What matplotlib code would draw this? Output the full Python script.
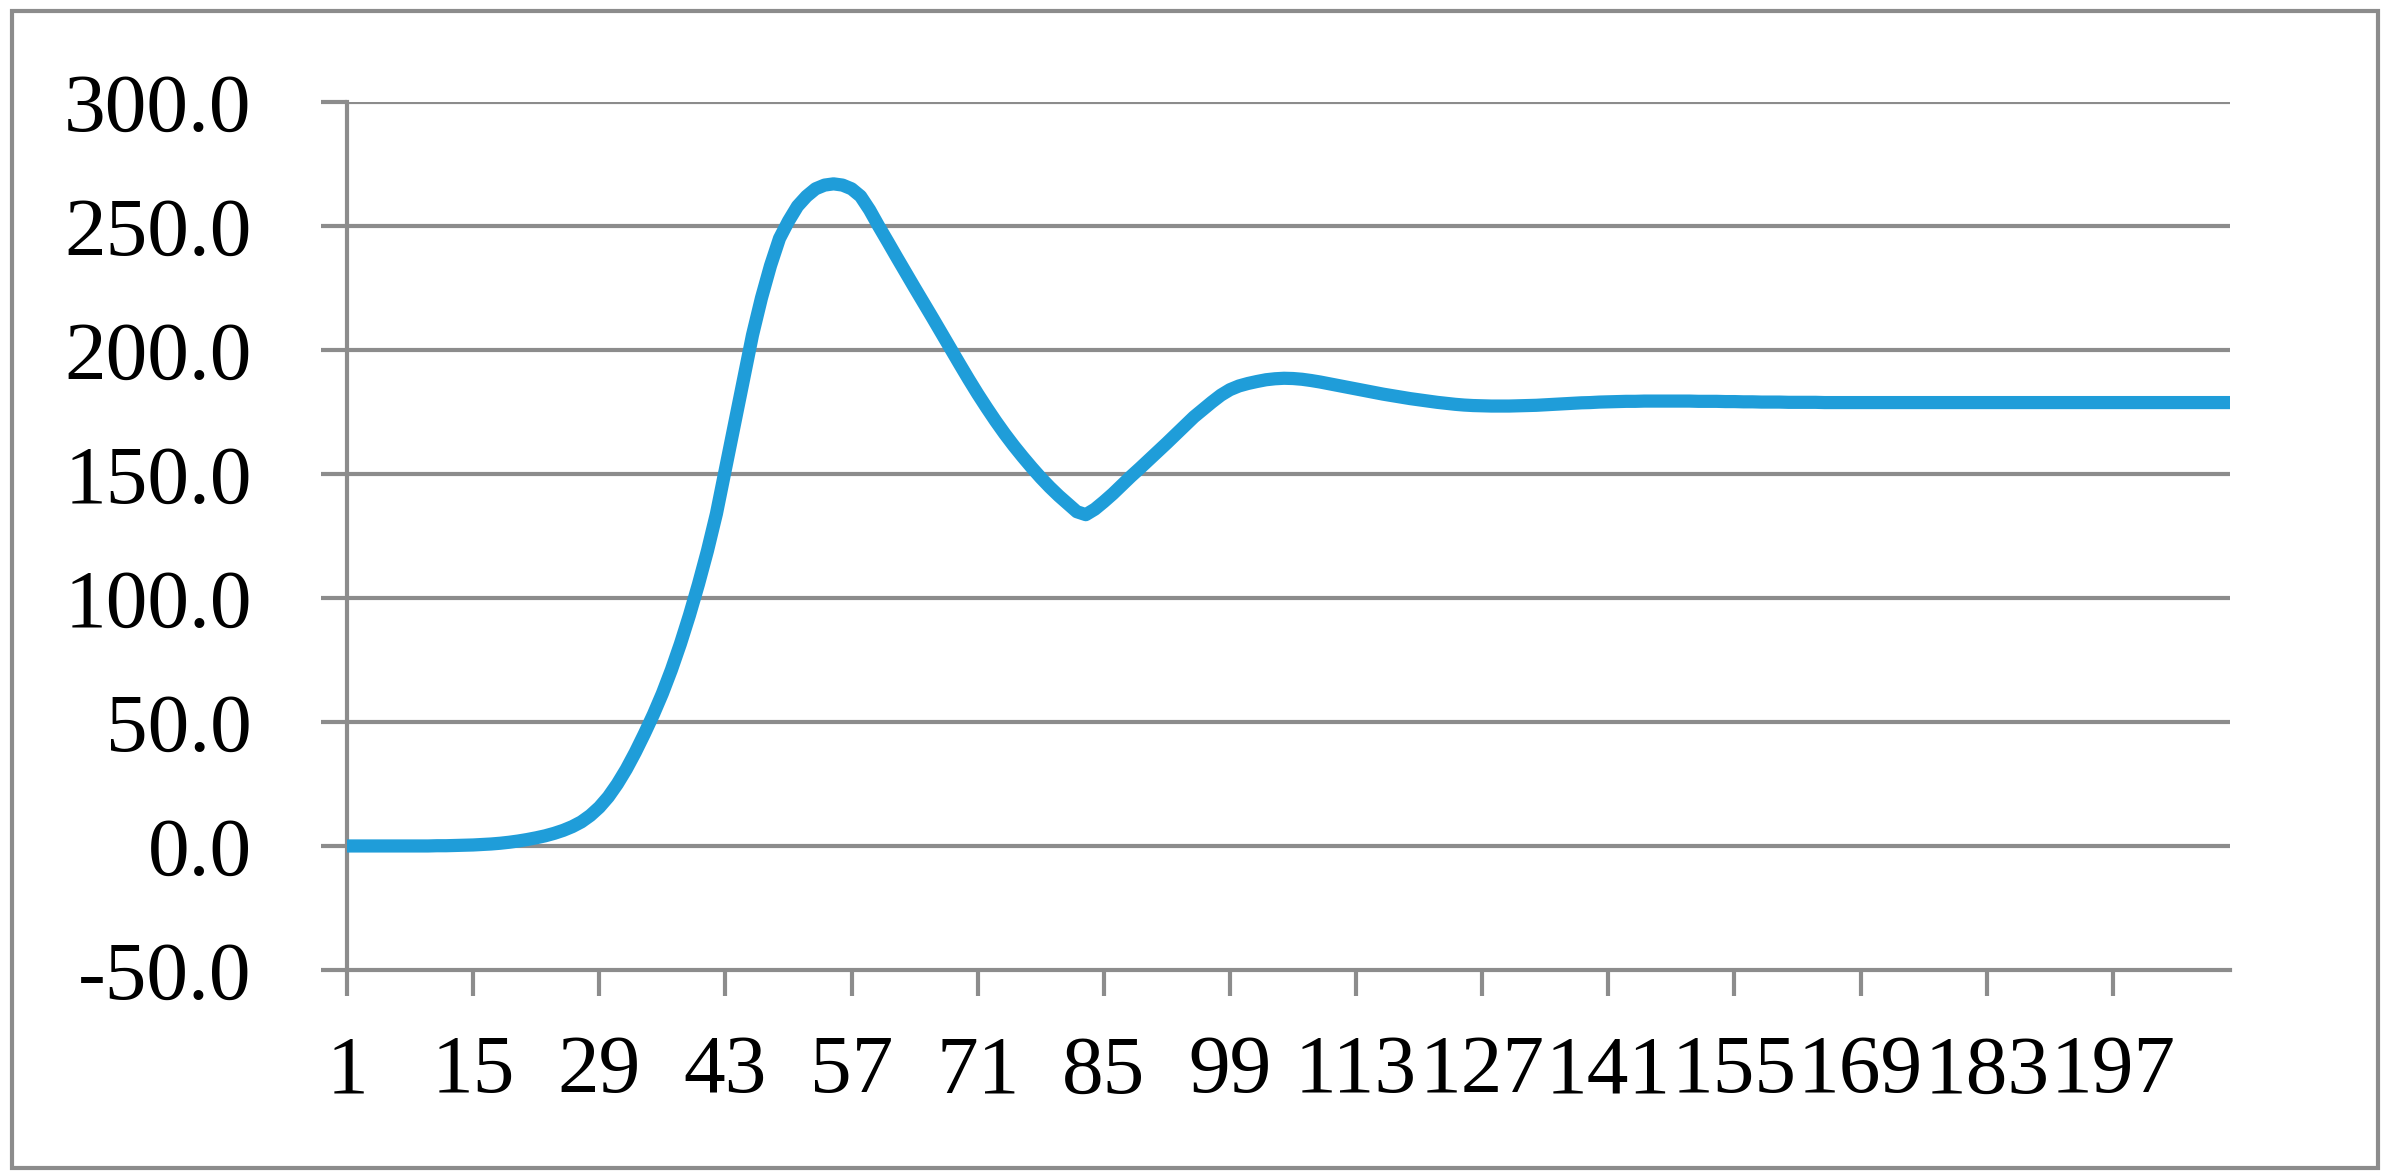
import numpy as np
import matplotlib
matplotlib.use('Agg')
import matplotlib.pyplot as plt
from matplotlib.patches import Rectangle

plt.rcParams['font.family'] = ['Liberation Serif', 'DejaVu Serif']

# valores (categorias 1..210)
valores = [
    0.0, 0.0, 0.0, 0.0, 0.0, 0.0, 0.0, 0.0, 0.0, 0.0,
    0.1, 0.1, 0.2, 0.3, 0.4, 0.6, 0.8, 1.1, 1.5, 2.0,
    2.6, 3.3, 4.1, 5.1, 6.3, 7.8, 9.7, 12.3, 15.6, 19.8,
    25.0, 31.0, 37.8, 45.2, 53.0, 61.5, 71.0, 81.5, 93.0, 105.5,
    119.0, 134.0, 152.0, 170.0, 188.0, 206.0, 221.0, 234.0, 245.0, 252.0,
    258.0, 262.0, 265.0, 266.5, 267.0, 266.5, 265.0, 262.0, 256.5, 250.0,
    243.8, 237.5, 231.3, 225.1, 219.0, 212.9, 206.7, 200.5, 194.3, 188.2,
    182.3, 176.7, 171.3, 166.2, 161.4, 156.9, 152.6, 148.5, 144.7, 141.2,
    138.0, 134.8, 133.6, 135.8, 138.8, 142.0, 145.5, 149.0, 152.3, 155.7,
    159.1, 162.5, 166.0, 169.5, 173.0, 176.0, 179.0, 181.8, 184.0, 185.5,
    186.5, 187.3, 188.0, 188.4, 188.6, 188.5, 188.2, 187.7, 187.1, 186.4,
    185.7, 185.0, 184.3, 183.6, 182.9, 182.2, 181.6, 181.0, 180.4, 179.9,
    179.4, 178.9, 178.5, 178.1, 177.8, 177.6, 177.5, 177.4, 177.4, 177.4,
    177.5, 177.6, 177.7, 177.9, 178.1, 178.3, 178.5, 178.7, 178.8, 179.0,
    179.1, 179.2, 179.3, 179.3, 179.4, 179.4, 179.4, 179.4, 179.4, 179.4,
    179.3, 179.3, 179.3, 179.2, 179.2, 179.1, 179.1, 179.0, 179.0, 179.0,
    178.9, 178.9, 178.9, 178.9, 178.8, 178.8, 178.8, 178.8, 178.8, 178.8,
    178.8, 178.8, 178.8, 178.8, 178.8, 178.8, 178.8, 178.8, 178.8, 178.8,
    178.8, 178.8, 178.8, 178.8, 178.8, 178.8, 178.8, 178.8, 178.8, 178.8,
    178.8, 178.8, 178.8, 178.8, 178.8, 178.8, 178.8, 178.8, 178.8, 178.8,
    178.8, 178.8, 178.8, 178.8, 178.8, 178.8, 178.8, 178.8, 178.8, 178.8,
]
categorias = list(range(1, len(valores) + 1))
rotulos_x = list(range(1, 198, 14))
rotulos_y = [-50, 0, 50, 100, 150, 200, 250, 300]

cinza = '#8c8c8c'
azul = '#1f9dd9'

fig = plt.figure(figsize=(23.87, 11.74), dpi=100)
ax = fig.add_axes([0.1454, 0.1738, 0.9342 - 0.1454, 0.9131 - 0.1738])

ax.plot(categorias, valores, color=azul, linewidth=9.5, solid_capstyle='round',
        solid_joinstyle='round', zorder=3)

ax.set_xlim(1, len(valores))
ax.set_ylim(-50, 300)
ax.set_xticks(rotulos_x)
ax.set_xticklabels([str(v) for v in rotulos_x])
ax.set_yticks(rotulos_y)
ax.set_yticklabels([f"{v:.1f}" for v in rotulos_y])

for v in rotulos_y[1:]:
    ax.axhline(v, color=cinza, linewidth=3, zorder=1)

for lado in ['top', 'right']:
    ax.spines[lado].set_visible(False)
for lado in ['left', 'bottom']:
    ax.spines[lado].set_color(cinza)
    ax.spines[lado].set_linewidth(3)

ax.tick_params(axis='x', direction='out', length=18.7, width=3, color=cinza,
               labelsize=60, pad=28)
ax.tick_params(axis='y', direction='out', length=18.7, width=3, color=cinza,
               labelsize=60, pad=50)

# borda externa do gráfico
fig.patches.append(Rectangle((12 / 2387, 6 / 1174), 2366 / 2387, 1157 / 1174,
                             transform=fig.transFigure, fill=False,
                             edgecolor=cinza, linewidth=3))

fig.savefig('out.png', dpi=100)
